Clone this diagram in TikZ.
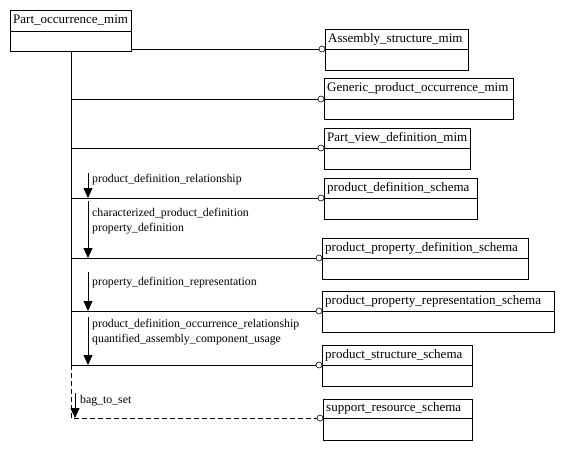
\documentclass[tikz,border=0pt]{standalone}
\usepackage{fontspec}
\setmainfont{Liberation Serif}
\usetikzlibrary{arrows.meta}
\begin{document}
\begin{tikzpicture}[x=1pt,y=-1pt,
  box/.style={draw,line width=0.8pt,minimum height=41pt,inner sep=0pt,anchor=north west},
  ttl/.style={anchor=west,inner sep=0pt,font=\fontsize{13}{15}\selectfont},
  lbl/.style={anchor=west,inner sep=0pt,align=left,font=\fontsize{11.8}{15}\selectfont},
  port/.style={draw,circle,fill=white,minimum size=6pt,inner sep=0pt,line width=0.6pt},
  conn/.style={line width=0.8pt},
  dep/.style={line width=0.8pt,-{Triangle[width=9pt,length=10pt]}}]
\useasboundingbox (0,0) rectangle (564,449);
% boxes
\newcommand{\umlbox}[6]{%
  \node[box,minimum width=#4] (#1) at (#2,#3) {};
  \draw[line width=0.8pt] (#2,#3+#5) -- (#2+#4,#3+#5);
  \node[ttl] (#1t) at (#2+3,#3+#5/2) {#6};}
\umlbox{p0}{10}{10}{121}{21}{Part\_occurrence\_mim}
\umlbox{a1}{325}{29}{143}{20}{Assembly\_structure\_mim}
\umlbox{a2}{324}{78}{189}{21}{Generic\_product\_occurrence\_mim}
\umlbox{a3}{324}{128}{146}{20}{Part\_view\_definition\_mim}
\umlbox{a4}{324}{178}{153}{20}{product\_definition\_schema}
\umlbox{a5}{322}{238}{206}{20}{product\_property\_definition\_schema}
\umlbox{a6}{322}{291}{232}{20}{product\_property\_representation\_schema}
\umlbox{a7}{322}{345}{150}{20}{product\_structure\_schema}
\umlbox{a8}{323}{399}{149}{19}{support\_resource\_schema}
% ports
\node[port] (c1) at (322,49) {};
\node[port] (c2) at (321,99) {};
\node[port] (c3) at (321,148) {};
\node[port] (c4) at (321,198) {};
\node[port] (c5) at (319,258) {};
\node[port] (c6) at (319,311) {};
\node[port] (c7) at (319,365) {};
\node[port] (c8) at (320,418) {};
% connectors
\draw[conn] (p0.east |- c1) -- (c1.west);
\draw[conn] (p0.south) -- (p0.south |- c7);
\draw[conn,dash pattern=on 5pt off 3pt] (p0.south |- c7) -- (p0.south |- c8) -- (c8.west);
\foreach \c in {c2,c3,c4,c5,c6,c7} \draw[conn] (p0.south |- \c) -- (\c.west);
% dependency arrows
\coordinate (d1s) at (88,173); \coordinate (d1e) at (88,198);
\coordinate (d2s) at (88,201); \coordinate (d2e) at (88,258);
\coordinate (d3s) at (88,272); \coordinate (d3e) at (88,311);
\coordinate (d4s) at (88,317); \coordinate (d4e) at (88,365);
\coordinate (d5s) at (75,393); \coordinate (d5e) at (75,418);
\draw[dep] (d1s) -- (d1e);
\draw[dep] (d2s) -- (d2e);
\draw[dep] (d3s) -- (d3e);
\draw[dep] (d4s) -- (d4e);
\draw[dep] (d5s) -- (d5e);
\node[lbl] (l1) at (92,180) {product\_definition\_relationship};
\node[lbl] (l2) at (92,221) {characterized\_product\_definition\\property\_definition};
\node[lbl] (l3) at (92,283) {property\_definition\_representation};
\node[lbl] (l4) at (92,332.5) {product\_definition\_occurrence\_relationship\\quantified\_assembly\_component\_usage};
\node[lbl] (l5) at (80,401) {bag\_to\_set};
\end{tikzpicture}
\end{document}
